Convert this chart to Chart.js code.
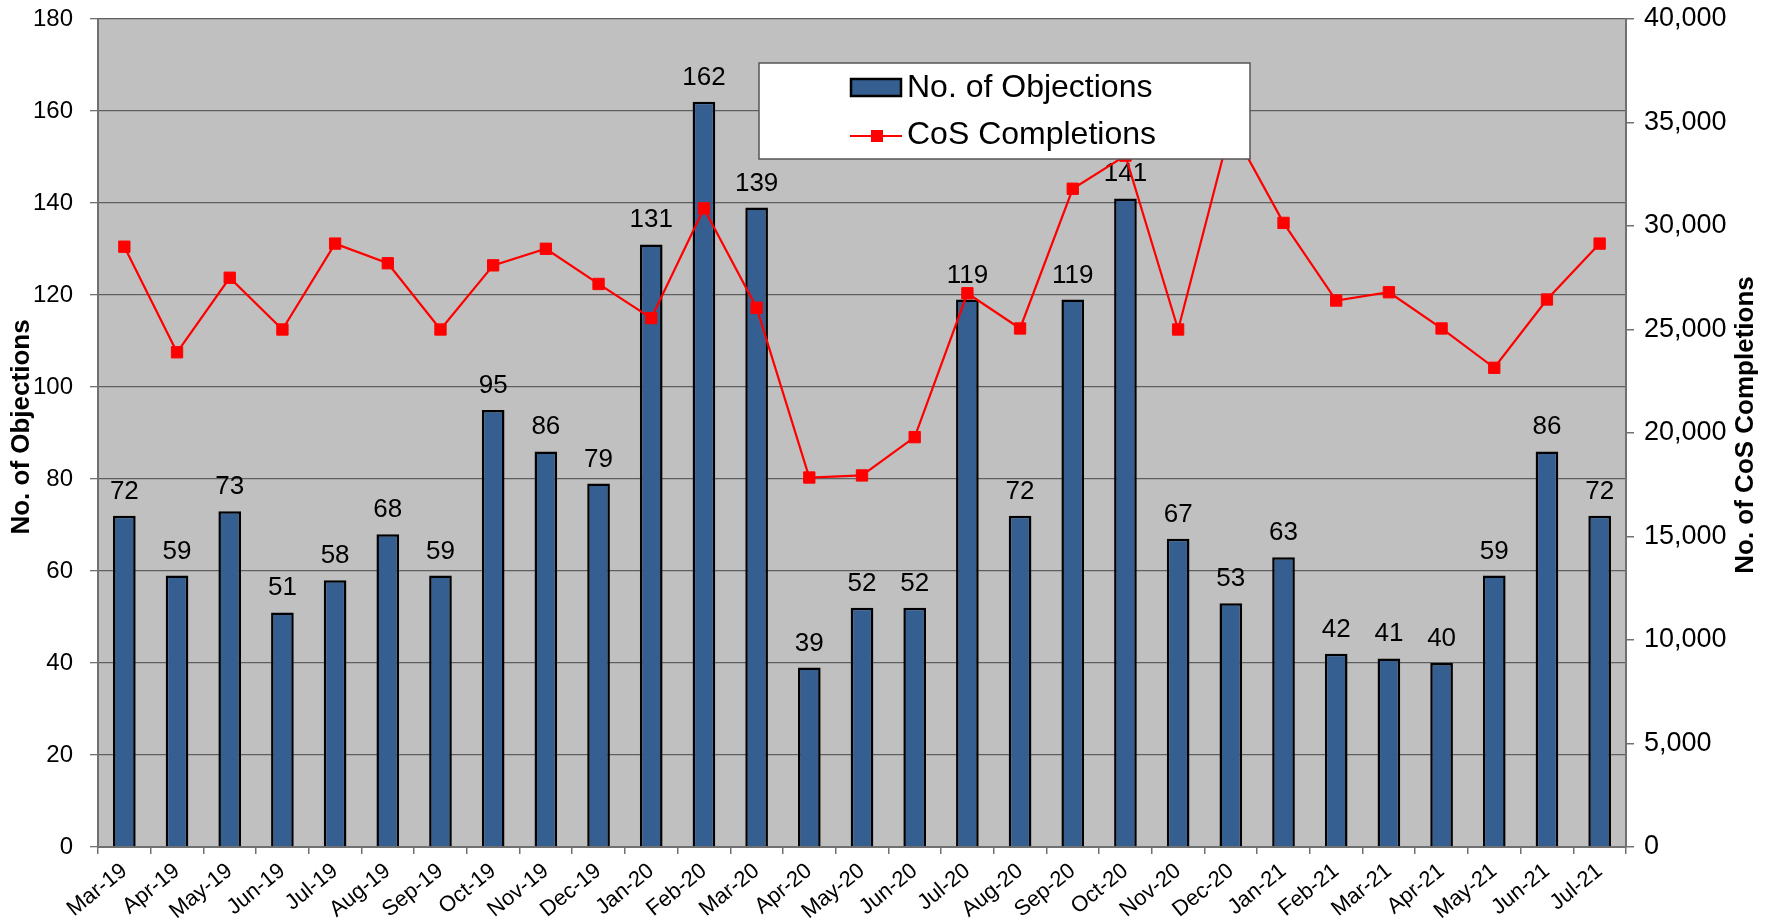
<!DOCTYPE html>
<html>
<head>
<meta charset="utf-8">
<title>Objections and CoS Completions</title>
<script src="https://cdn.jsdelivr.net/npm/chart.js@4/dist/chart.umd.min.js"></script>
<style>
  html, body { margin: 0; padding: 0; background: #fff; }
  #wrap { width: 1771px; height: 922px; }
</style>
</head>
<body>
<div id="wrap"><canvas id="chart" width="1771" height="922"></canvas></div>
<script>
// months on the x axis
const months = ['Mar-19', 'Apr-19', 'May-19', 'Jun-19', 'Jul-19', 'Aug-19', 'Sep-19', 'Oct-19', 'Nov-19', 'Dec-19',
  'Jan-20', 'Feb-20', 'Mar-20', 'Apr-20', 'May-20', 'Jun-20', 'Jul-20', 'Aug-20', 'Sep-20', 'Oct-20',
  'Nov-20', 'Dec-20', 'Jan-21', 'Feb-21', 'Mar-21', 'Apr-21', 'May-21', 'Jun-21', 'Jul-21'];

// bars (left axis)
const objections = [72, 59, 73, 51, 58, 68, 59, 95, 86, 79, 131, 162, 139, 39, 52, 52, 119, 72, 119, 141,
  67, 53, 63, 42, 41, 40, 59, 86, 72];

// line (right axis) - Oct-20 and Dec-20 sit behind the legend, estimated from the line slopes
const completions = [29000, 23900, 27500, 25000, 29150, 28200, 25000, 28100, 28900, 27200,
  25550, 30850, 26050, 17850, 17950, 19800, 26750, 25050, 31800, 33400,
  25000, 34800, 30150, 26400, 26800, 25050, 23150, 26450, 29150];

// axis ranges
const leftAxis = { min: 0, max: 180, step: 20 };
const rightAxis = { min: 0, max: 40000, step: 5000 };

const FONT = '"Liberation Sans", Arial, Helvetica, sans-serif';
const BAR_BLUE = '#355f91';
const AXIS_GREY = '#707070';

const chartDecor = {
  id: 'chartDecor',
  beforeDraw(chart) {
    const { ctx, chartArea: a } = chart;
    ctx.save();
    ctx.fillStyle = '#ffffff';
    ctx.fillRect(0, 0, chart.width, chart.height);
    ctx.fillStyle = '#c0c0c0';
    ctx.fillRect(a.left, a.top, a.right - a.left, a.bottom - a.top);
    ctx.restore();
  },
  // value labels go on top of the bars but under the red line
  afterDatasetDraw(chart, args) {
    if (args.index !== 0) return;
    const ctx = chart.ctx;
    ctx.save();
    ctx.font = '26px ' + FONT;
    ctx.fillStyle = '#000';
    ctx.textAlign = 'center';
    ctx.textBaseline = 'alphabetic';
    args.meta.data.forEach((bar, i) => {
      ctx.fillText(String(objections[i]), bar.x, bar.y - 17);
    });
    ctx.restore();
  },
  afterDraw(chart) {
    const ctx = chart.ctx;
    ctx.save();

    // axis titles, both reading bottom to top
    ctx.font = 'bold 26px ' + FONT;
    ctx.fillStyle = '#000';
    ctx.textAlign = 'center';
    ctx.textBaseline = 'middle';
    [[22, 427, 'No. of Objections'], [1746, 425, 'No. of CoS Completions']].forEach(([x, y, t]) => {
      ctx.save();
      ctx.translate(x, y);
      ctx.rotate(-Math.PI / 2);
      ctx.fillText(t, 0, 0);
      ctx.restore();
    });

    // legend box, drawn over the plot like the original
    const lx = 759, ly = 63, lw = 491, lh = 96;
    ctx.fillStyle = '#ffffff';
    ctx.fillRect(lx, ly, lw, lh);
    ctx.strokeStyle = '#555';
    ctx.lineWidth = 1.5;
    ctx.strokeRect(lx, ly, lw, lh);

    const ds = chart.data.datasets;
    // bar swatch
    ctx.fillStyle = BAR_BLUE;
    ctx.fillRect(851, 79, 50, 17);
    ctx.strokeStyle = '#000';
    ctx.lineWidth = 2.5;
    ctx.strokeRect(851, 79, 50, 17);
    // line swatch
    ctx.strokeStyle = '#ff0000';
    ctx.lineWidth = 2.2;
    ctx.beginPath();
    ctx.moveTo(850, 136);
    ctx.lineTo(902, 136);
    ctx.stroke();
    ctx.fillStyle = '#ff0000';
    ctx.fillRect(871, 130, 12, 12);

    ctx.font = '32px ' + FONT;
    ctx.fillStyle = '#000';
    ctx.textAlign = 'left';
    ctx.textBaseline = 'middle';
    ctx.fillText(ds[0].label, 907, 88);
    ctx.fillText(ds[1].label, 907, 135);
    ctx.restore();
  }
};

const ctx = document.getElementById('chart').getContext('2d');
new Chart(ctx, {
  type: 'bar',
  data: {
    labels: months,
    datasets: [
      {
        type: 'bar',
        label: 'No. of Objections',
        data: objections,
        yAxisID: 'y',
        backgroundColor: BAR_BLUE,
        borderColor: '#000',
        borderWidth: 2.5,
        barPercentage: 0.43,
        categoryPercentage: 1,
        order: 1
      },
      {
        type: 'line',
        label: 'CoS Completions',
        data: completions,
        yAxisID: 'y1',
        borderColor: '#ff0000',
        borderWidth: 2.2,
        tension: 0,
        pointStyle: 'rect',
        pointRadius: 8,
        pointBackgroundColor: '#ff0000',
        pointBorderColor: '#ff0000',
        pointBorderWidth: 1,
        order: 0
      }
    ]
  },
  options: {
    responsive: false,
    devicePixelRatio: 1,
    animation: false,
    events: [],
    layout: { padding: { top: 19, left: 0, right: 0, bottom: 0 } },
    plugins: {
      legend: { display: false },
      tooltip: { enabled: false }
    },
    scales: {
      x: {
        offset: true,
        grid: { display: true, drawOnChartArea: false, offset: true, tickLength: 7, color: AXIS_GREY, lineWidth: 1.5 },
        border: { color: AXIS_GREY, width: 2 },
        ticks: {
          color: '#000',
          font: { family: FONT, size: 22 },
          minRotation: 39,
          maxRotation: 39,
          autoSkip: false,
          padding: 4
        },
        afterFit: s => { s.height = 75; s.paddingLeft = 0; s.paddingRight = 0; }
      },
      y: {
        position: 'left',
        min: leftAxis.min,
        max: leftAxis.max,
        grid: { color: '#5f5f5f', lineWidth: 1.3, tickLength: 8, tickColor: AXIS_GREY },
        border: { color: AXIS_GREY, width: 2 },
        ticks: {
          stepSize: leftAxis.step,
          color: '#000',
          font: { family: FONT, size: 24 },
          padding: 17
        },
        afterFit: s => { s.width = 98; s.paddingTop = 0; s.paddingBottom = 0; }
      },
      y1: {
        position: 'right',
        min: rightAxis.min,
        max: rightAxis.max,
        grid: { drawOnChartArea: false, tickLength: 8, color: AXIS_GREY, lineWidth: 1.5 },
        border: { color: AXIS_GREY, width: 2 },
        ticks: {
          stepSize: rightAxis.step,
          color: '#000',
          font: { family: FONT, size: 27 },
          padding: 10,
          callback: v => Number(v).toLocaleString('en-US')
        },
        afterFit: s => { s.width = 145; s.paddingTop = 0; s.paddingBottom = 0; }
      }
    }
  },
  plugins: [chartDecor]
});
</script>
</body>
</html>
